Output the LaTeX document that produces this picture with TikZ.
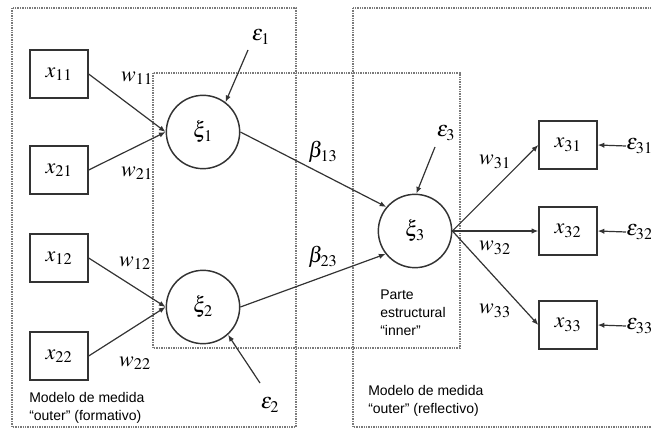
\documentclass[tikz,border=0pt]{standalone}
\usepackage{mathptmx}
\usepackage{fontspec}
\newfontfamily\arial{Liberation Sans}
\usepackage{tikz}
\usetikzlibrary{positioning,arrows.meta}
\definecolor{cLine}{HTML}{333333}
\definecolor{cZone}{HTML}{7a7a7a}
\tikzset{
  >={Latex[length=5pt,width=4pt]},
  obsbox/.style={draw=cLine,line width=1.5pt,minimum width=43pt,minimum height=36pt,
                 inner sep=0pt},
  latc/.style={circle,draw=cLine,line width=1.1pt,minimum size=55pt,inner sep=0pt},
  sar/.style={->,line width=0.9pt,cLine},
  zone/.style={cZone,line width=0.9pt,dash pattern=on 1pt off 0.8pt},
  lbl/.style={inner sep=0pt,font=\fontsize{16.5}{19}\selectfont},
  txt/.style={align=left,inner sep=0pt,font=\arial\fontsize{10.5}{13.5}\selectfont},
}

\begin{document}
\begin{tikzpicture}[x=0.75pt,y=-0.75pt,font=\fontsize{16.5}{19}\selectfont]
        \useasboundingbox (0,0) rectangle (651,428);
        % zones
        \draw[zone] (12,8) rectangle (296,427);
        \draw[zone] (153,73) rectangle (460,348);
        \draw[zone] (353,8) rectangle (670,427);
        % indicators and constructs
        \node[obsbox] (x11) at (59,74) {$x_{11}$};
        \node[obsbox] (x21) at (59,170) {$x_{21}$};
        \node[obsbox] (x12) at (59,258) {$x_{12}$};
        \node[obsbox] (x22) at (59,356) {$x_{22}$};
        \node[latc] (xi1) at (203,132) {$\xi_1$};
        \node[latc] (xi2) at (203,307) {$\xi_2$};
        \node[latc] (xi3) at (415,231) {$\xi_3$};
        \node[obsbox] (x31) at (568,145) {$x_{31}$};
        \node[obsbox] (x32) at (568,231) {$x_{32}$};
        \node[obsbox] (x33) at (568,325) {$x_{33}$};
        % errors
        \node[lbl] (e1) at (261,37) {$\varepsilon_1$};
        \node[lbl] (e2) at (270,405) {$\varepsilon_2$};
        \node[lbl] (e3) at (446,133) {$\varepsilon_3$};
        \node[lbl,anchor=west] (e31) at (626,146) {$\varepsilon_{31}$};
        \node[lbl,anchor=west] (e32) at (626,232) {$\varepsilon_{32}$};
        \node[lbl,anchor=west] (e33) at (626,326) {$\varepsilon_{33}$};
        \coordinate (e1s) at (248,50);
        \coordinate (e2s) at (260,383);
        \coordinate (e3s) at (435,147);
        % paths
        \draw[sar] (x11.east)--(xi1.west);
        \draw[sar] (x21.east)--(xi1.west);
        \draw[sar] (x12.east)--(xi2.west);
        \draw[sar] (x22.east)--(xi2.west);
        \draw[sar] (e1s)--(xi1.53);
        \draw[sar] (e2s)--(xi2.-48);
        \draw[sar] (e3s)--(xi3.88);
        \draw[sar] (xi1.east)--(xi3.140);
        \draw[sar] (xi2.east)--(xi3.218);
        \draw[sar] (xi3.east)--(x31.west);
        \draw[sar] (xi3.east)--(x32.west);
        \draw[sar] (xi3.east)--(x33.west);
        \draw[sar] (e31.west)--(x31.east);
        \draw[sar] (e32.west)--(x32.east);
        \draw[sar] (e33.west)--(x33.east);
        % weights
        \node[lbl] (w11) at (137,78) {$w_{11}$};
        \node[lbl] (w21) at (137,173) {$w_{21}$};
        \node[lbl] (w12) at (135,263) {$w_{12}$};
        \node[lbl] (w22) at (135,363) {$w_{22}$};
        \node[lbl] (b13) at (323,152) {$\beta_{13}$};
        \node[lbl] (b23) at (323,257) {$\beta_{23}$};
        \node[lbl] (w31) at (495,162) {$w_{31}$};
        \node[lbl] (w32) at (495,248) {$w_{32}$};
        \node[lbl] (w33) at (495,311) {$w_{33}$};
        % captions
        \node[txt,anchor=west] (tf) at (29,408) {Modelo de medida\\“outer” (formativo)};
        \node[txt,anchor=west] (tr) at (368,401) {Modelo de medida\\“outer” (reflectivo)};
        \node[txt,anchor=west] (ti) at (380,313) {Parte\\estructural\\“inner”};
      \end{tikzpicture}
\end{document}
